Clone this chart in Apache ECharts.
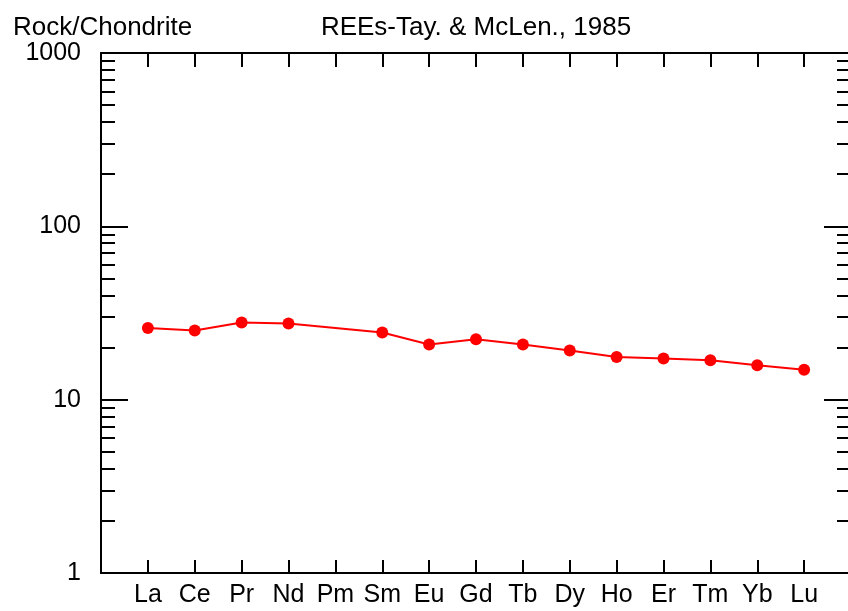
<!DOCTYPE html>
<html>
<head>
<meta charset="utf-8">
<title>REE spider diagram</title>
<script src="https://cdn.jsdelivr.net/npm/echarts@6/dist/echarts.min.js"></script>
<style>
  html, body { margin: 0; padding: 0; background: #fff; }
  #chart { width: 848px; height: 611px; }
</style>
</head>
<body>
<div id="chart"></div>
<script>
// 元素 (La..Lu)，Pm 没有数据
const elements = ['La', 'Ce', 'Pr', 'Nd', 'Pm', 'Sm', 'Eu', 'Gd', 'Tb', 'Dy', 'Ho', 'Er', 'Tm', 'Yb', 'Lu']
const rockChondrite = [25.9, 25.1, 27.9, 27.5, null, 24.4, 20.8, 22.3, 20.8, 19.2, 17.6, 17.3, 16.9, 15.8, 14.9]
const majorTicks = [1, 10, 100, 1000]
const minorTicks = [2, 3, 4, 5, 6, 7, 8, 9, 20, 30, 40, 50, 60, 70, 80, 90, 200, 300, 400, 500, 600, 700, 800, 900]

const FONT = '"Liberation Sans", Arial, sans-serif'
const black = '#000'

// 点的坐标: x = 元素序号(1..15)
const points = []
rockChondrite.forEach((v, i) => {
  if (v != null) points.push([i + 1, v])
})

const chart = echarts.init(document.getElementById('chart'))

const xBase = {
  type: 'value',
  min: 0,
  max: elements.length + 1,
  interval: 1,
  splitLine: { show: false },
  axisLine: { show: true, onZero: false, lineStyle: { color: black, width: 2 } },
  axisTick: { show: true, inside: true, length: 13, lineStyle: { color: black, width: 2 } }
}

// 次刻度用线性辅助轴 (log10 空间)
const minorAxis = (pos) => ({
  type: 'value',
  position: pos,
  min: 0,
  max: 3,
  splitLine: { show: false },
  axisLine: { show: false, onZero: false },
  axisLabel: { show: false },
  axisTick: {
    show: true, inside: true, length: 14,
    customValues: minorTicks.map(v => Math.log10(v)),
    lineStyle: { color: black, width: 2 }
  }
})

// 主刻度 (对数轴)，右边的轴线在画布外
const majorAxis = (pos, labels) => ({
  type: 'log',
  logBase: 10,
  min: majorTicks[0],
  max: majorTicks[majorTicks.length - 1],
  position: pos,
  splitLine: { show: false },
  axisLine: { show: labels, onZero: false, lineStyle: { color: black, width: 2 } },
  axisTick: { show: true, inside: true, length: 27, lineStyle: { color: black, width: 2 } },
  axisLabel: labels
    ? { show: true, margin: 20, fontSize: 25, color: black, fontFamily: FONT, formatter: v => String(v) }
    : { show: false }
})

chart.setOption({
  animation: false,
  backgroundColor: '#fff',
  textStyle: { fontFamily: FONT },
  graphic: [
    { type: 'text', left: 13, top: 15, style: { text: 'Rock/Chondrite', font: '26px ' + FONT, fill: black } },
    { type: 'text', x: 476, y: 15, style: { text: 'REEs-Tay. & McLen., 1985', font: '26px ' + FONT, fill: black, textAlign: 'center', textVerticalAlign: 'top' } }
  ],
  grid: { left: 101, top: 53, width: 750, bottom: 38, containLabel: false, outerBoundsMode: 'none' },
  xAxis: [
    Object.assign({}, xBase, {
      position: 'bottom',
      axisLabel: {
        show: true, margin: 10, fontSize: 25, color: black, fontFamily: FONT,
        formatter: (v) => elements[v - 1] || ''
      }
    }),
    Object.assign({}, xBase, {
      position: 'top',
      axisTick: { show: true, inside: true, length: 14, lineStyle: { color: black, width: 2 } },
      axisLabel: { show: false }
    })
  ],
  yAxis: [
    majorAxis('left', true),
    majorAxis('right', false),
    minorAxis('left'),
    minorAxis('right')
  ],
  series: [{
    type: 'line',
    xAxisIndex: 0,
    yAxisIndex: 0,
    data: points,
    symbol: 'circle',
    symbolSize: 12,
    itemStyle: { color: '#ff0000' },
    lineStyle: { color: '#ff0000', width: 2 }
  }]
})
</script>
</body>
</html>
